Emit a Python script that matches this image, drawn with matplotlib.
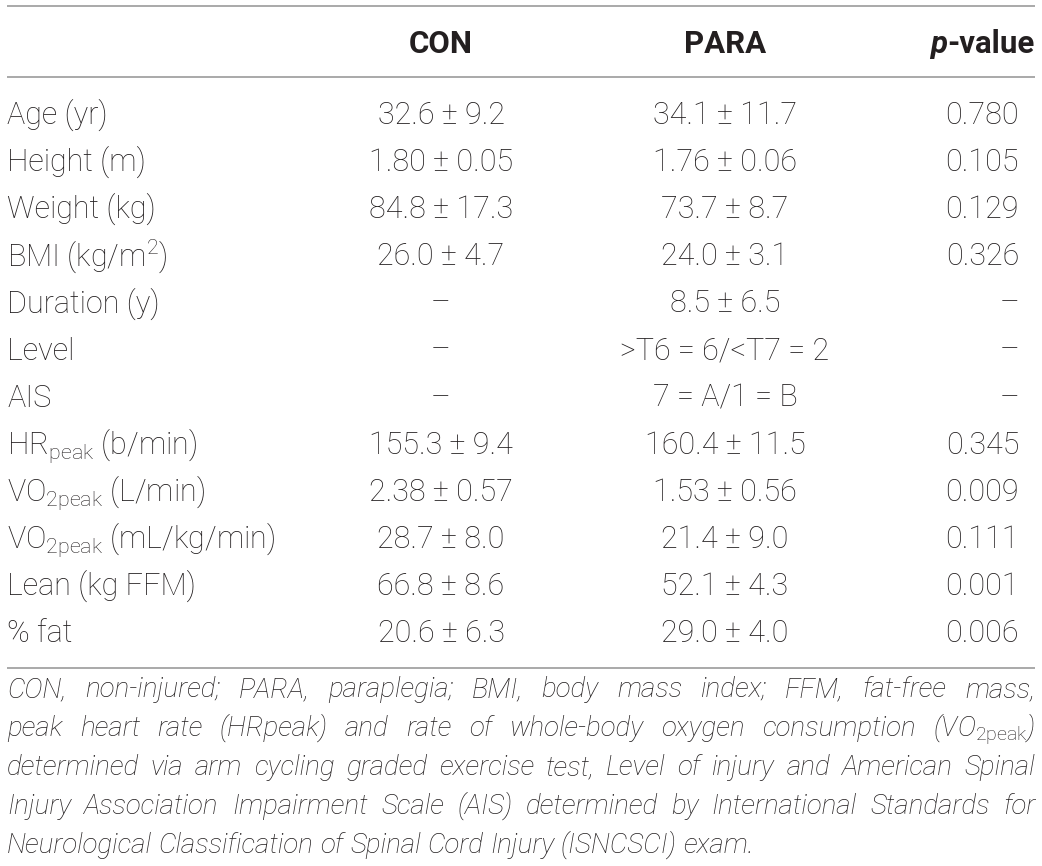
import matplotlib
matplotlib.use("Agg")
import matplotlib.pyplot as plt

plt.rcParams['mathtext.fontset'] = 'custom'
plt.rcParams['mathtext.rm'] = 'Roboto:light'

# table content
headers = ["CON", "PARA"]
row_labels = ["Age (yr)", "Height (m)", "Weight (kg)", "BMI (kg/m$^\\mathregular{2}$)",
              "Duration (y)", "Level", "AIS", "HR$_\\mathregular{peak}$ (b/min)",
              "VO$_\\mathregular{2peak}$ (L/min)", "VO$_\\mathregular{2peak}$ (mL/kg/min)",
              "Lean (kg FFM)", "% fat"]
con_vals = ["32.6 ± 9.2", "1.80 ± 0.05", "84.8 ± 17.3", "26.0 ± 4.7", "–", "–", "–",
            "155.3 ± 9.4", "2.38 ± 0.57", "28.7 ± 8.0", "66.8 ± 8.6", "20.6 ± 6.3"]
para_vals = ["34.1 ± 11.7", "1.76 ± 0.06", "73.7 ± 8.7", "24.0 ± 3.1", "8.5 ± 6.5",
             ">T6 = 6/<T7 = 2", "7 = A/1 = B", "160.4 ± 11.5", "1.53 ± 0.56",
             "21.4 ± 9.0", "52.1 ± 4.3", "29.0 ± 4.0"]
p_vals = ["0.780", "0.105", "0.129", "0.326", "–", "–", "–",
          "0.345", "0.009", "0.111", "0.001", "0.006"]
footnote = [
    "CON, non-injured; PARA, paraplegia; BMI, body mass index; FFM, fat-free mass,",
    "peak heart rate (HRpeak) and rate of whole-body oxygen consumption (VO$_\\mathrm{2peak}$)",
    "determined via arm cycling graded exercise test, Level of injury and American Spinal",
    "Injury Association Impairment Scale (AIS) determined by International Standards for",
    "Neurological Classification of Spinal Cord Injury (ISNCSCI) exam.",
]

FONT = 'Roboto'
INK = '#231f20'
RULE = '#9b9b9b'
SIZE = 22
HEAD_SIZE = 22.5
NOTE_SIZE = 20

fig = plt.figure(figsize=(10.42, 8.66), dpi=100)
ax = fig.add_axes([0, 0, 1, 1])
ax.set_xlim(0, 1042)
ax.set_ylim(866, 0)
ax.axis('off')
renderer = fig.canvas.get_renderer()

x_left, x_right = 7, 1035
x_con, x_para, x_p = 441, 725, 1019

# rules
for yy in (6, 77, 668):
    ax.plot([x_left, x_right], [yy, yy], color=RULE, lw=1.2, solid_capstyle='butt')

# header
y_head = 53
ax.text(x_con, y_head, headers[0], ha='center', va='baseline', fontsize=HEAD_SIZE,
        fontweight='bold', family=FONT, color=INK)
ax.text(x_para, y_head, headers[1], ha='center', va='baseline', fontsize=HEAD_SIZE,
        fontweight='bold', family=FONT, color=INK)
tv = ax.text(x_right, y_head, "-value", ha='right', va='baseline', fontsize=HEAD_SIZE,
             fontweight='bold', family=FONT, color=INK)
wv = tv.get_window_extent(renderer).width
ax.text(x_right - wv - 1, y_head, "p", ha='right', va='baseline', fontsize=HEAD_SIZE,
        fontweight='bold', fontstyle='italic', family=FONT, color=INK)

# body rows
y0, step = 124, 47.1
for i in range(len(row_labels)):
    y = y0 + i * step
    ax.text(x_left, y, row_labels[i], ha='left', va='baseline', fontsize=SIZE,
            fontweight='light', family=FONT, color=INK)
    ax.text(x_con, y, con_vals[i], ha='center', va='baseline', fontsize=SIZE,
            fontweight='light', family=FONT, color=INK)
    ax.text(x_para, y, para_vals[i], ha='center', va='baseline', fontsize=SIZE,
            fontweight='light', family=FONT, color=INK)
    ax.text(x_p, y, p_vals[i], ha='right', va='baseline', fontsize=SIZE,
            fontweight='light', family=FONT, color=INK)

# justified footnote
def note_text(s, y):
    return ax.text(0, y, s, ha='left', va='baseline', fontsize=NOTE_SIZE,
                   fontweight='light', fontstyle='italic', family=FONT, color=INK)

probe_a = note_text("aa", -100)
probe_b = note_text("a a", -100)
space_w = probe_b.get_window_extent(renderer).width - probe_a.get_window_extent(renderer).width
probe_a.remove()
probe_b.remove()

y_note, note_step = 697, 39
for k, line in enumerate(footnote):
    y = y_note + k * note_step
    words = line.split(" ")
    texts = [note_text(w, y) for w in words]
    widths = [t.get_window_extent(renderer).width for t in texts]
    if k < len(footnote) - 1:
        gap = (x_right - x_left - sum(widths)) / (len(words) - 1)
    else:
        gap = space_w
    x = x_left
    for t, w in zip(texts, widths):
        t.set_x(x)
        x += w + gap

fig.savefig("out.png", dpi=100)
